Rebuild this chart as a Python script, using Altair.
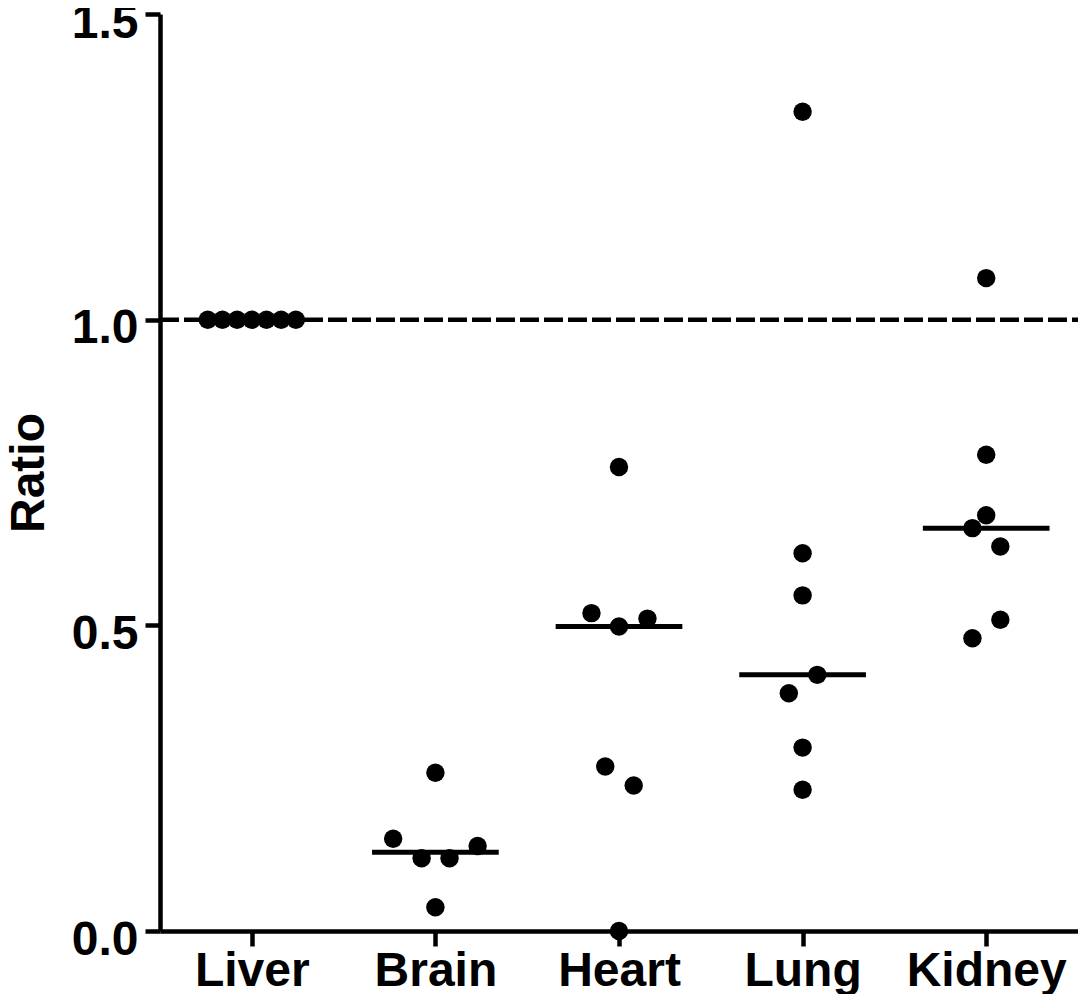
import altair as alt
import pandas as pd

# Category names and their positions on the x axis
categories = ["Liver", "Brain", "Heart", "Lung", "Kidney"]

# Values per tissue
liver_vals = [1.0, 1.0, 1.0, 1.0, 1.0, 1.0, 1.0]
brain_vals = [0.259, 0.151, 0.119, 0.119, 0.139, 0.039]
heart_vals = [0.759, 0.520, 0.498, 0.511, 0.269, 0.238, 0.0]
lung_vals = [1.340, 0.618, 0.549, 0.419, 0.389, 0.300, 0.231]
kidney_vals = [1.068, 0.779, 0.680, 0.659, 0.629, 0.509, 0.479]

# Horizontal spread of points within each category (category units)
liver_off = [-0.24, -0.16, -0.08, 0.0, 0.08, 0.16, 0.24]
brain_off = [0.0, -0.23, -0.075, 0.077, 0.23, 0.0]
heart_off = [0.0, -0.15, 0.0, 0.155, -0.075, 0.08, 0.0]
lung_off = [0.0, 0.0, 0.0, 0.08, -0.075, 0.0, 0.0]
kidney_off = [0.0, 0.0, 0.0, -0.075, 0.077, 0.077, -0.075]

y_ticks = [0.0, 0.5, 1.0, 1.5]
reference_value = 1.0

rows = []
for i, (vals, offs) in enumerate([
    (liver_vals, liver_off), (brain_vals, brain_off), (heart_vals, heart_off),
    (lung_vals, lung_off), (kidney_vals, kidney_off)]):
    for v, o in zip(vals, offs):
        rows.append({"tissue": categories[i], "idx": i, "offset": o, "value": v})
df = pd.DataFrame(rows)

FONT = "Liberation Sans"
label_expr = "[" + ",".join(f"'{c}'" for c in categories) + "][datum.value]"

xscale = alt.Scale(domain=[-0.5, 4.5], nice=False, zero=False)
yscale = alt.Scale(domain=[0, 1.5], nice=False)

xaxis = alt.Axis(values=[0, 1, 2, 3, 4], labelExpr=label_expr, title=None, grid=False,
                 labelFont=FONT, labelFontSize=48, labelFontWeight="bold", labelColor="black",
                 domainColor="black", domainWidth=4.5, tickColor="black", tickWidth=4.5,
                 tickSize=15, labelPadding=1)
yaxis = alt.Axis(values=y_ticks, format=".1f", title="Ratio", grid=False,
                 labelFont=FONT, labelFontSize=48, labelFontWeight="bold", labelColor="black",
                 labelOffset=9,
                 titleFont=FONT, titleFontSize=48, titleFontWeight="bold", titleColor="black",
                 titlePadding=18, domainColor="black", domainWidth=4.5, tickColor="black",
                 tickWidth=4.5, tickSize=15, labelPadding=7)

base = alt.Chart(df)

points = base.transform_calculate(
    xpos="datum.idx + datum.offset"
).mark_circle(size=340, color="black", opacity=1).encode(
    x=alt.X("xpos:Q", scale=xscale, axis=xaxis),
    y=alt.Y("value:Q", scale=yscale, axis=yaxis),
)

medians = base.transform_filter("datum.idx > 0").transform_aggregate(
    med="median(value)", groupby=["idx"]
).transform_calculate(
    xl="datum.idx - 0.345", xr="datum.idx + 0.345"
).mark_rule(color="black", strokeWidth=5).encode(
    x=alt.X("xl:Q", scale=xscale),
    x2="xr:Q",
    y=alt.Y("med:Q", scale=yscale),
)

ref = alt.Chart(pd.DataFrame({"r": [reference_value]})).mark_rule(
    color="black", strokeWidth=4.5, strokeDash=[19, 5]
).encode(
    y=alt.Y("r:Q", scale=yscale),
    x=alt.datum(-0.5),
    x2=alt.datum(4.56),
)

chart = alt.layer(ref, medians, points).properties(
    width=918, height=917,
    background="white",
    autosize=alt.AutoSizeParams(type="none"),
    padding={"left": 152, "top": 6, "right": 0, "bottom": 63},
).configure_view(stroke="transparent", strokeWidth=0).configure_axis(grid=False)

chart.save("out.html", embed_options={"renderer": "svg", "actions": False})
